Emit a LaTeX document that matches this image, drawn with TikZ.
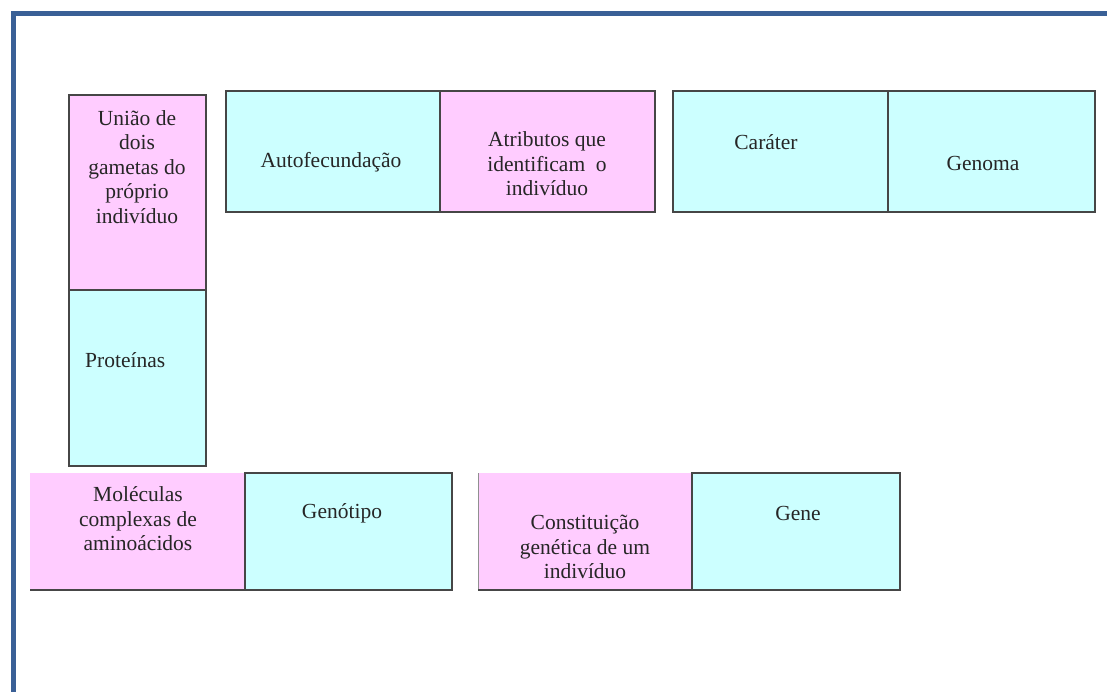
\documentclass[tikz,border=0pt]{standalone}
\usepackage{fontspec}
\setmainfont{Liberation Serif}
\definecolor{rosa}{RGB}{255,204,255}
\definecolor{ciano}{RGB}{204,255,255}
\definecolor{moldura}{RGB}{58,96,150}
\definecolor{borda}{RGB}{70,70,70}
\begin{document}
\begin{tikzpicture}[x=1pt,y=-1pt,
  cell/.style={rectangle, inner sep=0pt, outer sep=0pt, draw=borda, line width=1.5pt},
  bare/.style={rectangle, inner sep=0pt, outer sep=0pt, draw=none},
  txt/.style={align=center, text=black!85, font=\fontsize{21.5}{24.5}\selectfont, inner sep=0pt}]
\useasboundingbox (0,0) rectangle (1107,692);
\fill[white] (0,0) rectangle (1107,692);
\draw[moldura, line width=5pt] (13,692) -- (13,14) -- (1107,14);

% top-left column
\node[cell, fill=rosa, minimum width=137pt, minimum height=195pt] (uniao) at (137.5,192.5) {};
\node[cell, fill=ciano, minimum width=137pt, minimum height=176pt] (prot) at (137.5,378) {};
% top row
\node[cell, fill=ciano, minimum width=214pt, minimum height=121pt] (auto) at (333,151.5) {};
\node[cell, fill=rosa, minimum width=215pt, minimum height=121pt] (atri) at (547.5,151.5) {};
\node[cell, fill=ciano, minimum width=215pt, minimum height=121pt] (cara) at (780.5,151.5) {};
\node[cell, fill=ciano, minimum width=207pt, minimum height=121pt] (geno) at (991.5,151.5) {};
% bottom row
\node[bare, fill=rosa, minimum width=215pt, minimum height=117pt] (mole) at (137.5,531.5) {};
\draw[borda, line width=1.5pt] (mole.south west) -- (mole.south east);
\node[cell, fill=ciano, minimum width=207pt, minimum height=117pt] (genot) at (348.5,531.5) {};
\node[bare, fill=rosa, minimum width=214pt, minimum height=117pt] (cons) at (585,531.5) {};
\draw[borda!60, line width=0.8pt] (cons.north west) -- (cons.south west);
\node[cell, fill=ciano, minimum width=208pt, minimum height=117pt] (gene) at (796,531.5) {};
\draw[borda, line width=1.5pt] (cons.south west) -- ([xshift=20pt]cons.south east);

% texts
\node[txt] (uniao-t) at (137,167) {União de\\dois\\gametas do\\próprio\\indivíduo};
\node[txt, anchor=west] (prot-t) at (85,360) {Proteínas};
\node[txt] (auto-t) at (331,162) {Autofecundação};
\node[txt] (atri-t) at (547,164) {Atributos que\\identificam~~o\\indivíduo};
\node[txt] (cara-t) at (766,142) {Caráter};
\node[txt] (geno-t) at (983,163) {Genoma};
\node[txt] (mole-t) at (138,519) {Moléculas\\complexas de\\aminoácidos};
\node[txt] (genot-t) at (342,513) {Genótipo};
\node[txt] (cons-t) at (585,547) {Constituição\\genética de um\\indivíduo};
\node[txt] (gene-t) at (798,513) {Gene};
\end{tikzpicture}
\end{document}
